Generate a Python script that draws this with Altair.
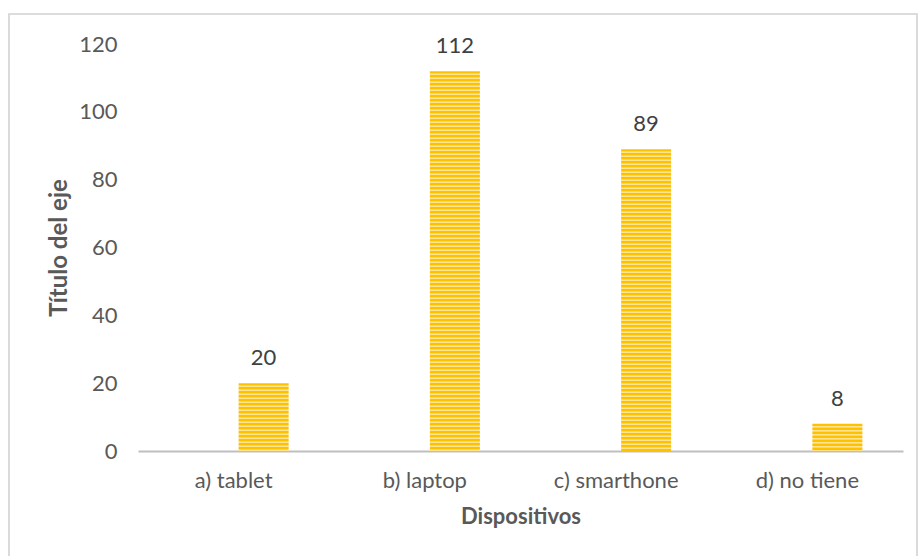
import altair as alt
import pandas as pd

categories = ["a) tablet", "b) laptop", "c) smarthone", "d) no tiene"]
values = [20, 112, 89, 8]

df = pd.DataFrame({"cat": categories, "val": values})

W, H = 765, 407
YMAX = 120
FONT = "Lato"
FS = 22

def stripes(v, period=4.0):
    hpx = v / YMAX * H
    n = int(hpx // period) + 1
    stops = []
    dark = "#FFC000"
    light = "#FFE58F"
    for k in range(n):
        base = k * period
        for off, col in [(0.0, dark), (2.0, dark), (2.6, light), (3.4, light)]:
            o = (base + off) / hpx
            if o <= 1.0:
                stops.append(alt.GradientStop(offset=o, color=col))
    stops.append(alt.GradientStop(offset=1.0, color=dark))
    return alt.Gradient(gradient="linear", x1=0, x2=0, y1=0, y2=1, stops=stops)

xenc = alt.X("cat:N", sort=categories,
             scale=alt.Scale(paddingInner=0, paddingOuter=0),
             axis=alt.Axis(title="Dispositivos", labelAngle=0, labelFontSize=FS,
                           labelColor="#595959", labelFont=FONT, labelPadding=19,
                           ticks=False, domainColor="#BFBFBF", domainWidth=2,
                           titleFont=FONT, titleFontSize=22, titleFontWeight="bold",
                           titleColor="#595959", titlePadding=15))
yenc = alt.Y("val:Q", scale=alt.Scale(domain=[0, YMAX]),
             axis=alt.Axis(title="Título del eje", values=[0, 20, 40, 60, 80, 100, 120],
                           grid=False, domain=False, ticks=False, labelFontSize=FS,
                           labelColor="#595959", labelFont=FONT, labelPadding=21,
                           titleFont=FONT, titleFontSize=24, titleFontWeight="bold",
                           titleColor="#595959", titlePadding=7))

base = alt.Chart(df)

bars = []
for c, v in zip(categories, values):
    bars.append(
        base.transform_filter(alt.datum.cat == c)
        .mark_bar(width=50, xOffset=30, color=stripes(v))
        .encode(x=xenc, y=yenc)
    )

labels = base.mark_text(font=FONT, fontSize=FS, color="#404040", baseline="bottom",
                        dy=-13, xOffset=30).encode(
    x=alt.X("cat:N", sort=categories), y="val:Q", text="val:Q")

frame = base.mark_rect(fill=None, stroke="#D9D9D9", strokeWidth=1.2).encode(
    x=alt.value(-129), x2=alt.value(779), y=alt.value(-30), y2=alt.value(540))

chart = alt.layer(frame, *bars, labels).properties(
    width=W, height=H,
    autosize=alt.AutoSizeParams(type="none"),
    padding={"left": 138, "top": 44, "right": 15, "bottom": 105},
).configure(background="white").configure_view(stroke=None)

chart.save("out.html", embed_options={"renderer": "svg", "actions": False})
